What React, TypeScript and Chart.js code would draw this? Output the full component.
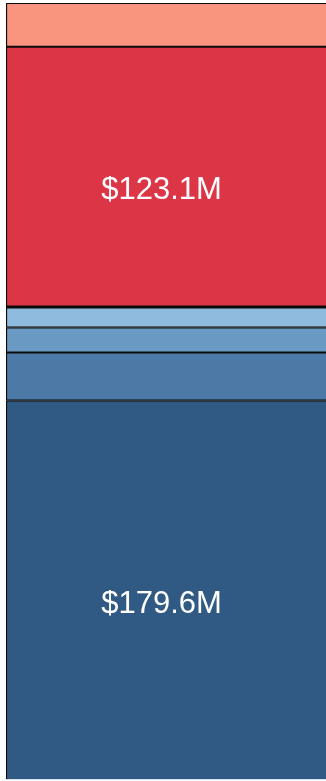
import React, { useEffect, useRef } from "react";
import { Chart, registerables } from "chart.js";

Chart.register(...registerables);

const categories = ["Total"];
const segmentNames = ["Blue 1", "Blue 2", "Blue 3", "Blue 4", "Red 1", "Red 2"];
const segmentValues = [179.6, 22.8, 11.8, 10.0, 123.1, 20.7];
const segmentLabels = ["$179.6M", "", "", "", "$123.1M", ""];

const segmentColors = ["#305A84", "#4C79A6", "#6A9AC4", "#8FBCDE", "#DC3545", "#F9957E"];
const borderColor = "#0a0a0a";

const labelPlugin = {
  id: "segmentLabels",
  afterDatasetsDraw(chart: any) {
    const ctx = chart.ctx;
    ctx.save();
    ctx.fillStyle = "#ffffff";
    ctx.font = "31px 'Liberation Sans', Arial, sans-serif";
    ctx.textAlign = "center";
    ctx.textBaseline = "alphabetic";
    chart.data.datasets.forEach((ds: any, i: number) => {
      const label = segmentLabels[i];
      if (!label) return;
      const meta = chart.getDatasetMeta(i);
      meta.data.forEach((el: any) => {
        const cy = (el.y + el.base) / 2;
        ctx.fillText(label, el.x - 4.5, cy + 22.5);
      });
    });
    ctx.restore();
  },
};

export default function App() {
  const canvasRef = useRef<HTMLCanvasElement | null>(null);

  useEffect(() => {
    if (!canvasRef.current) return;
    const total = segmentValues.reduce((a, b) => a + b, 0);
    const datasets = segmentValues.map((v, i) => {
      const bw: any = { top: 1.3, bottom: 1.3, left: 1.5, right: 0 };
      if (i === 0) bw.bottom = 0;
      if (i === 3) bw.top = 2.4;
      return {
        label: segmentNames[i],
        data: [v],
        backgroundColor: segmentColors[i],
        borderColor: borderColor,
        borderWidth: bw,
        borderSkipped: false as any,
        barPercentage: 1,
        categoryPercentage: 1,
      };
    });
    const chart = new Chart(canvasRef.current, {
      type: "bar",
      data: { labels: categories, datasets },
      options: {
        animation: false,
        responsive: true,
        maintainAspectRatio: false,
        layout: { padding: { left: 6, top: 3, right: 0, bottom: 1.5 } },
        plugins: { legend: { display: false }, tooltip: { enabled: false } },
        scales: {
          x: { stacked: true, display: false },
          y: { stacked: true, display: false, min: 0, max: total },
        },
      },
      plugins: [labelPlugin],
    });
    return () => chart.destroy();
  }, []);

  return (
    <div style={{ position: "absolute", left: 0, top: 0, width: 326, height: 781 }}>
      <canvas ref={canvasRef} />
    </div>
  );
}
